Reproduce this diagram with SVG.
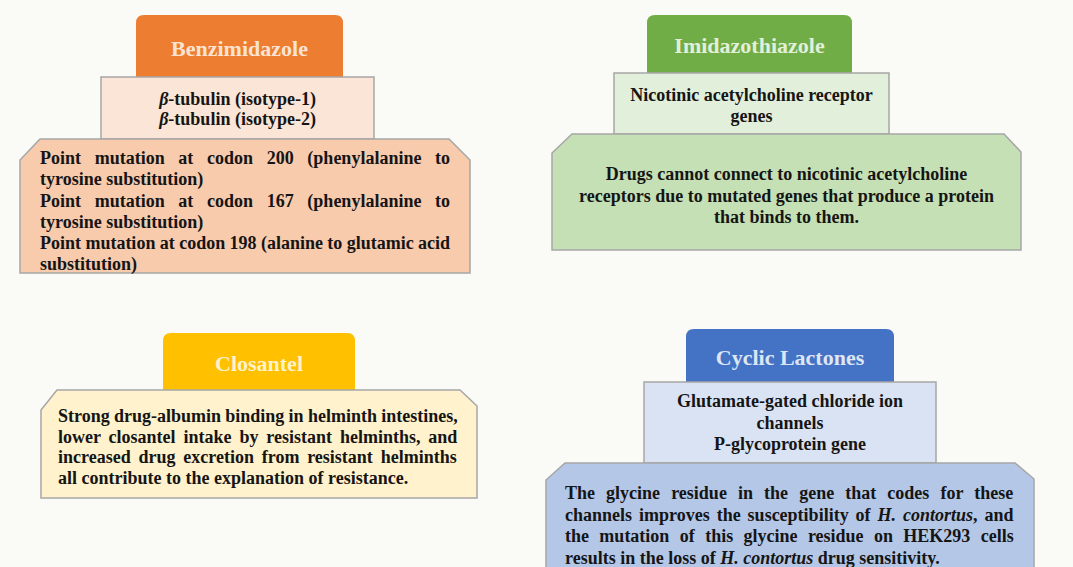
<svg xmlns="http://www.w3.org/2000/svg" width="1073" height="567" viewBox="0 0 1073 567">
<style>
.t{font-family:"Liberation Serif","Times New Roman",serif;font-weight:bold;font-size:18px;fill:#151515}
.c{text-anchor:middle}
.h{font-family:"Liberation Serif","Times New Roman",serif;font-weight:bold;font-size:22px;text-anchor:middle}
.b{stroke:#a6a6a6;stroke-width:1.5}
.i{font-style:italic}
</style>
<rect width="1073" height="567" fill="#fafaf7"/>
<g id="connectors"/>
<g id="benzimidazole">
<path d="M136,77 V23 Q136,15 144,15 H335 Q343,15 343,23 V77 Z" fill="#ed7d31"/>
<text class="h" x="239.5" y="56" fill="#fbe3d3">Benzimidazole</text>
<rect class="b" x="101" y="77" width="273" height="62" fill="#fbe5d6"/>
<text class="t c" x="237.5" y="105"><tspan class="i">β</tspan>-tubulin (isotype-1)</text>
<text class="t c" x="237.5" y="125"><tspan class="i">β</tspan>-tubulin (isotype-2)</text>
<polygon class="b" points="40,139 449,139 470,160 470,273 20,273 20,160" fill="#f8cbad"/>
<text class="t" x="40" y="164" word-spacing="9.17">Point mutation at codon 200 (phenylalanine to</text>
<text class="t" x="40" y="185">tyrosine substitution)</text>
<text class="t" x="40" y="207" word-spacing="9.17">Point mutation at codon 167 (phenylalanine to</text>
<text class="t" x="40" y="228">tyrosine substitution)</text>
<text class="t" x="40" y="249" word-spacing="-0.12">Point mutation at codon 198 (alanine to glutamic acid</text>
<text class="t" x="40" y="270">substitution)</text>
</g>
<g id="imidazothiazole">
<path d="M647,74 V23 Q647,15 655,15 H844 Q852,15 852,23 V74 Z" fill="#70ad47"/>
<text class="h" x="749.5" y="53" fill="#e2efda">Imidazothiazole</text>
<rect class="b" x="614" y="73" width="275" height="61" fill="#e2efda"/>
<text class="t c" x="751.5" y="101">Nicotinic acetylcholine receptor</text>
<text class="t c" x="751.5" y="122">genes</text>
<polygon class="b" points="572,134 1004,134 1021,152 1021,250 552,250 552,153" fill="#c5e0b4"/>
<text class="t c" x="786.5" y="180">Drugs cannot connect to nicotinic acetylcholine</text>
<text class="t c" x="786.5" y="201.5">receptors due to mutated genes that produce a protein</text>
<text class="t c" x="786.5" y="223">that binds to them.</text>
</g>
<g id="closantel">
<path d="M163,391 V341 Q163,333 171,333 H347 Q355,333 355,341 V391 Z" fill="#ffc000"/>
<text class="h" x="259" y="371" fill="#fff2cc">Closantel</text>
<polygon class="b" points="57,390 460,390 477,406 477,498 41,498 41,410" fill="#fff2cc"/>
<text class="t" x="58" y="422" word-spacing="-0.22">Strong drug-albumin binding in helminth intestines,</text>
<text class="t" x="58" y="442.5" word-spacing="3.42">lower closantel intake by resistant helminths, and</text>
<text class="t" x="58" y="463" word-spacing="3.31">increased drug excretion from resistant helminths</text>
<text class="t" x="58" y="483.5">all contribute to the explanation of resistance.</text>
</g>
<g id="cyclic-lactones">
<path d="M686,383 V337 Q686,329 694,329 H886 Q894,329 894,337 V383 Z" fill="#4472c4"/>
<text class="h" x="790" y="365" fill="#dde6f5">Cyclic Lactones</text>
<rect class="b" x="644" y="382" width="292" height="81" fill="#dae3f3"/>
<text class="t c" x="790" y="407">Glutamate-gated chloride ion</text>
<text class="t c" x="790" y="428.5">channels</text>
<text class="t c" x="790" y="450">P-glycoprotein gene</text>
<polygon class="b" points="565,463 1015,463 1034,479 1034,575 546,575 546,480" fill="#b4c7e7"/>
<text class="t" x="565" y="499" word-spacing="6.6">The glycine residue in the gene that codes for these</text>
<text class="t" x="565" y="520.5" word-spacing="2.48">channels improves the susceptibility of <tspan class="i">H. contortus</tspan>, and</text>
<text class="t" x="565" y="542" word-spacing="5.88">the mutation of this glycine residue on HEK293 cells</text>
<text class="t" x="565" y="563.5">results in the loss of <tspan class="i">H. contortus</tspan> drug sensitivity.</text>
</g>
</svg>
